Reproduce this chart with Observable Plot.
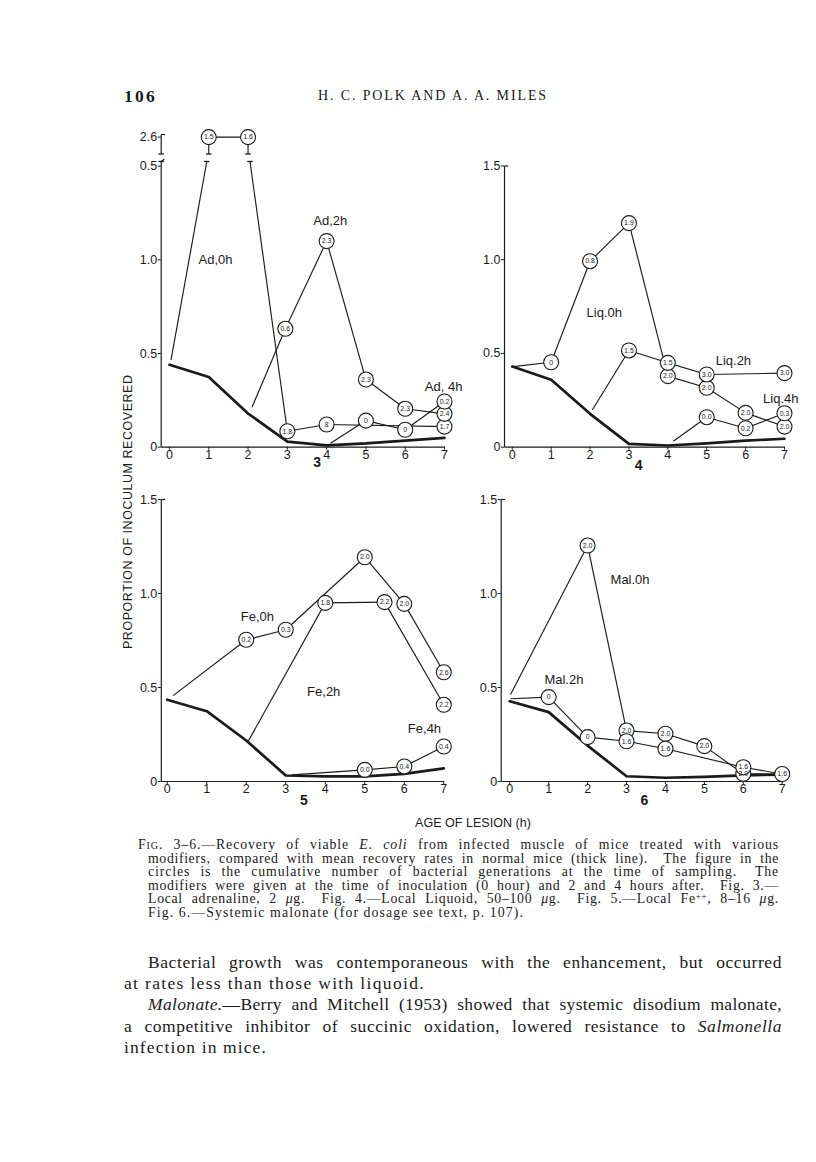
<!DOCTYPE html>
<html><head><meta charset="utf-8">
<script src="https://cdn.jsdelivr.net/npm/d3@7"></script>
<script src="https://cdn.jsdelivr.net/npm/@observablehq/plot@0.6"></script>
<style>
body{margin:0;background:#fff;}
#page{position:relative;width:816px;height:1162px;background:#fff;color:#1a1a1a;overflow:hidden;}
.ln{position:absolute;white-space:nowrap;}
.serif{font-family:"Liberation Serif","Times New Roman",serif;}
.sans{font-family:"Liberation Sans",Arial,sans-serif;}
sup{font-size:0.65em;line-height:0;vertical-align:0.45em;}
</style></head><body><div id="page"></div>
<script>
// ---------- data ----------
const hours = [0, 1, 2, 3, 4, 5, 6, 7];

// Fig. 3 — local adrenaline
const normal3 = [0.44, 0.375, 0.18, 0.03, 0.01, 0.02, 0.035, 0.05];
const ad0hX = [0.04, 1, 2, 3, 4, 7];
const ad0hY = [0.466, 2.6, 2.6, 0.085, 0.121, 0.11];
const ad0hG = [null, "1.5", "1.6", "1.8", "8", "1.7"];
const ad2hX = [2.1, 2.95, 4, 5, 6, 7];
const ad2hY = [0.213, 0.632, 1.10, 0.361, 0.205, 0.178];
const ad2hG = [null, "0.6", "2.3", "2.3", "2.3", "2.4"];
const ad4hX = [4.1, 5, 6, 7];
const ad4hY = [0.021, 0.142, 0.093, 0.244];
const ad4hG = [null, "0", "0", "0.2"];

// Fig. 4 — local Liquoid
const normal4 = [0.43, 0.36, 0.178, 0.018, 0.009, 0.02, 0.035, 0.045];
const liq0hX = [0.02, 1, 2, 3, 4, 5, 6, 7];
const liq0hY = [0.43, 0.453, 0.992, 1.195, 0.379, 0.317, 0.183, 0.11];
const liq0hG = [null, "0", "0.8", "1.9", "2.0", "2.0", "2.0", "2.0"];
const liq2hX = [2.06, 3, 4, 5, 7];
const liq2hY = [0.2, 0.516, 0.45, 0.388, 0.395];
const liq2hG = [null, "1.5", "1.5", "3.0", "3.0"];
const liq4hX = [4.14, 5, 6, 7];
const liq4hY = [0.032, 0.16, 0.101, 0.181];
const liq4hG = [null, "0.0", "0.2", "0.3"];

// Fig. 5 — local Fe++
const normal5 = [0.435, 0.374, 0.218, 0.032, 0.027, 0.027, 0.041, 0.07];
const fe0hX = [0.15, 2, 3, 5, 6, 7];
const fe0hY = [0.457, 0.754, 0.807, 1.193, 0.945, 0.581];
const fe0hG = [null, "0.2", "0.3", "2.0", "2.0", "2.6"];
const fe2hX = [2.05, 4, 5.5, 7];
const fe2hY = [0.214, 0.95, 0.954, 0.408];
const fe2hG = [null, "1.8", "2.2", "2.2"];
const fe4hX = [3.15, 5, 6, 7];
const fe4hY = [0.035, 0.062, 0.08, 0.186];
const fe4hG = [null, "0.0", "0.4", "0.4"];

// Fig. 6 — systemic malonate
const normal6 = [0.427, 0.369, 0.191, 0.028, 0.02, 0.025, 0.033, 0.036];
const mal0hX = [0.02, 2, 3, 4, 5, 6, 7];
const mal0hY = [0.463, 1.255, 0.271, 0.254, 0.188, 0.041, 0.04];
const mal0hG = [null, "2.0", "2.0", "2.0", "2.0", "2.0", null];
const mal2hX = [0.02, 1, 2, 3, 4, 6, 7];
const mal2hY = [0.44, 0.449, 0.236, 0.214, 0.174, 0.076, 0.04];
const mal2hG = [null, "0", "0", "1.6", "1.6", "1.6", "1.6"];

// tick labels
const yTicksStd = [0, 0.5, 1.0, 1.5];
const yLabelsStd = ["0", "0.5", "1.0", "1.5"];
const yTicksBrk = [0, 0.5, 1.0, 1.5, 1.655];
const yLabelsBrk = ["0", "0.5", "1.0", "0.5", "2.6"];

// ---------- drawing ----------
const page = document.getElementById("page");
const INK = "#1a1a1a";

function makePanel(cfg) {
  const cut = cfg.cut ?? Infinity;
  const pos = v => (v > cut ? cfg.breakPos : v);
  const segs = [], bars = [], pts = [];
  for (const [xs, ys, gs] of cfg.series) {
    const p = xs.map((x, i) => ({x, v: ys[i], g: gs[i]}));
    p.forEach((d, i) => {
      if (d.g != null) pts.push({x: d.x, y: pos(d.v), g: d.g});
      if (i === 0) return;
      const a = p[i - 1], b = d;
      const aHi = a.v > cut, bHi = b.v > cut;
      if (aHi === bHi) segs.push({x1: a.x, y1: pos(a.v), x2: b.x, y2: pos(b.v)});
      else {
        const hi = aHi ? a : b, lo = aHi ? b : a;
        const xa = hi.x + Math.sign(lo.x - hi.x) * cfg.brk.dx;
        segs.push({x1: lo.x, y1: lo.v, x2: xa, y2: cfg.brk.low});
        segs.push({x1: hi.x, y1: cfg.brk.high, x2: hi.x, y2: pos(hi.v)});
        bars.push({x: xa, y: cfg.brk.low}, {x: hi.x, y: cfg.brk.high});
      }
    });
  }
  // axis frame
  const axisSegs = [{x1: cfg.xMin, y1: 0, x2: 7, y2: 0}];
  if (cfg.brk) {
    axisSegs.push({x1: cfg.xMin, y1: 0, x2: cfg.xMin, y2: cfg.brk.low});
    axisSegs.push({x1: cfg.xMin, y1: cfg.brk.high, x2: cfg.xMin, y2: cfg.yTop});
    bars.push({x: cfg.xMin, y: cfg.brk.low}, {x: cfg.xMin, y: cfg.brk.high});
    axisSegs.push({x1: cfg.xMin, y1: cfg.brk.low, x2: cfg.xMin + 0.08, y2: cfg.brk.low + 0.012});
  } else {
    axisSegs.push({x1: cfg.xMin, y1: 0, x2: cfg.xMin, y2: cfg.yTop});
  }
  axisSegs.push({x1: cfg.xMin, y1: cfg.yTop, x2: cfg.xMin + 0.1, y2: cfg.yTop});
  const labMap = new Map(cfg.yTicks.map((t, i) => [t, cfg.yLabels[i]]));
  const normal = hours.map((h, i) => ({h, v: cfg.normal[i]}));

  const svg = Plot.plot({
    width: cfg.W, height: cfg.H,
    marginLeft: cfg.mL, marginRight: cfg.mR, marginTop: cfg.mT, marginBottom: cfg.mB,
    x: {domain: [cfg.xMin, 7], axis: null},
    y: {domain: [0, cfg.yTop], axis: null},
    style: {fontFamily: "'Liberation Sans', Arial, sans-serif", color: INK, background: "transparent", overflow: "visible", maxWidth: "none"},
    marks: [
      Plot.link(axisSegs, {x1: "x1", y1: "y1", x2: "x2", y2: "y2", stroke: INK, strokeWidth: 1.2}),
      Plot.axisX(hours, {tickSize: 3, tickPadding: 0, fontSize: 12.5, stroke: INK}),
      Plot.axisY(cfg.yTicks, {tickSize: 3, tickPadding: 1, fontSize: 12.5, tickFormat: d => labMap.get(d), stroke: INK}),
      Plot.link(segs, {x1: "x1", y1: "y1", x2: "x2", y2: "y2", stroke: INK, strokeWidth: 1.15}),
      Plot.link(bars, {x1: d => d.x - 0.07, x2: d => d.x + 0.07, y1: "y", y2: "y", stroke: INK, strokeWidth: 1.3}),
      Plot.line(normal, {x: "h", y: "v", stroke: INK, strokeWidth: 2.7, strokeLinejoin: "round"}),
      Plot.dot(pts, {x: "x", y: "y", r: 7.5, fill: "white", stroke: INK, strokeWidth: 1.1}),
      Plot.text(pts, {x: "x", y: "y", text: "g", fontSize: 7, fill: INK}),
      Plot.text(cfg.labels, {x: "x", y: "y", text: "t", textAnchor: "start", fontSize: 13, fill: INK}),
      Plot.text([cfg.num], {x: "x", y: "y", text: "t", fontSize: 14, fontWeight: "bold", fill: INK})
    ]
  });
  svg.style.position = "absolute";
  svg.style.left = cfg.left + "px";
  svg.style.top = cfg.top + "px";
  page.appendChild(svg);
}

makePanel({
  left: 110, top: 116, W: 350, H: 354, mL: 50.7, mR: 16, mT: 18, mB: 23.3,
  xMin: -0.21, yTop: 1.669, cut: 1.5, breakPos: 1.655,
  brk: {low: 1.525, high: 1.565, dx: 0.05},
  yTicks: yTicksBrk, yLabels: yLabelsBrk, normal: normal3,
  series: [[ad0hX, ad0hY, ad0hG], [ad2hX, ad2hY, ad2hG], [ad4hX, ad4hY, ad4hG]],
  labels: [{t: "Ad,0h", x: 0.74, y: 1.0}, {t: "Ad,2h", x: 3.66, y: 1.21}, {t: "Ad, 4h", x: 6.5, y: 0.32}],
  num: {t: "3", x: 3.76, y: -0.08}
});
makePanel({
  left: 460, top: 140, W: 340, H: 330, mL: 44, mR: 16, mT: 25.45, mB: 23.3,
  xMin: -0.2, yTop: 1.5,
  yTicks: yTicksStd, yLabels: yLabelsStd, normal: normal4,
  series: [[liq0hX, liq0hY, liq0hG], [liq2hX, liq2hY, liq2hG], [liq4hX, liq4hY, liq4hG]],
  labels: [{t: "Liq.0h", x: 1.91, y: 0.717}, {t: "Liq.2h", x: 5.23, y: 0.459}, {t: "Liq.4h", x: 6.45, y: 0.258}],
  num: {t: "4", x: 3.25, y: -0.098}
});
makePanel({
  left: 110, top: 480, W: 350, H: 330, mL: 50.8, mR: 16.7, mT: 19, mB: 29,
  xMin: -0.15, yTop: 1.5,
  yTicks: yTicksStd, yLabels: yLabelsStd, normal: normal5,
  series: [[fe0hX, fe0hY, fe0hG], [fe2hX, fe2hY, fe2hG], [fe4hX, fe4hY, fe4hG]],
  labels: [{t: "Fe,0h", x: 1.86, y: 0.878}, {t: "Fe,2h", x: 3.54, y: 0.475}, {t: "Fe,4h", x: 6.09, y: 0.278}],
  num: {t: "5", x: 3.46, y: -0.1}
});
makePanel({
  left: 460, top: 480, W: 340, H: 330, mL: 40.7, mR: 18.3, mT: 19, mB: 29,
  xMin: -0.22, yTop: 1.5,
  yTicks: yTicksStd, yLabels: yLabelsStd, normal: normal6,
  series: [[mal0hX, mal0hY, mal0hG], [mal2hX, mal2hY, mal2hG]],
  labels: [{t: "Mal.0h", x: 2.59, y: 1.073}, {t: "Mal.2h", x: 0.89, y: 0.541}],
  num: {t: "6", x: 3.46, y: -0.1}
});

// ---------- page text ----------
function addLine(html, cls, left, cy, size, lh, opts = {}) {
  const el = document.createElement("div");
  el.className = "ln " + cls;
  el.innerHTML = html;
  el.style.left = left + "px";
  el.style.fontSize = size + "px";
  el.style.lineHeight = lh + "px";
  el.style.top = (cy - lh / 2) + "px";
  if (opts.weight) el.style.fontWeight = opts.weight;
  page.appendChild(el);
  return el;
}
// justified line: spread part of the extra width over letters, rest over word gaps
function justify(el, width, share) {
  const txt = el.textContent;
  const w = el.getBoundingClientRect().width;
  const ns = (txt.match(/ /g) || []).length;
  el.style.letterSpacing = ((width - w) * share / txt.length) + "px";
  const w2 = el.getBoundingClientRect().width;
  if (ns) el.style.wordSpacing = ((width - w2) / ns) + "px";
}
function fitWidth(el, width) {
  const w = el.getBoundingClientRect().width;
  el.style.letterSpacing = ((width - w) / el.textContent.length) + "px";
}
function block(lines, cls, y0, dy, size, lh, right, share) {
  lines.forEach(([h, x, end], i) => {
    const el = addLine(h, cls, x, y0 + i * dy, size, lh);
    if (end === "J") justify(el, right - x, share);
    else fitWidth(el, end - x);
  });
}

// running head
const pg = addLine("106", "serif", 124, 96, 17.5, 20, {weight: "bold"});
fitWidth(pg, 33);
const rh = addLine("H. C. POLK AND A. A. MILES", "serif", 318, 96, 14, 18);
fitWidth(rh, 230);

// axis titles
const yl = document.createElementNS("http://www.w3.org/2000/svg", "svg");
yl.setAttribute("width", "30"); yl.setAttribute("height", "320");
yl.style.position = "absolute"; yl.style.left = "113px"; yl.style.top = "352px";
yl.innerHTML = '<text transform="translate(15,160) rotate(-90)" text-anchor="middle" dominant-baseline="central" textLength="274" lengthAdjust="spacing" font-family="Liberation Sans, Arial, sans-serif" font-size="12.5" fill="' + INK + '">PROPORTION OF INOCULUM RECOVERED</text>';
page.appendChild(yl);
const xl = addLine("AGE OF LESION (h)", "sans", 415, 823, 12.5, 16);
fitWidth(xl, 116);

// caption  ([html, left, "J" = justified | right end])
block([
  ['<span style="font-variant:small-caps">Fig.</span> 3–6.—Recovery of viable <i>E. coli</i> from infected muscle of mice treated with various', 138, "J"],
  ['modifiers, compared with mean recovery rates in normal mice (thick line).&ensp; The figure in the', 148, "J"],
  ['circles is the cumulative number of bacterial generations at the time of sampling.&ensp; The', 148, "J"],
  ['modifiers were given at the time of inoculation (0 hour) and 2 and 4 hours after.&ensp; Fig. 3.—', 148, "J"],
  ['Local adrenaline, 2 <i>μ</i>g.&ensp; Fig. 4.—Local Liquoid, 50–100 <i>μ</i>g.&ensp; Fig. 5.—Local Fe<sup>++</sup>, 8–16 <i>μ</i>g.', 148, "J"],
  ['Fig. 6.—Systemic malonate (for dosage see text, p. 107).', 148, 524]
], "serif", 845, 13.6, 13.8, 14, 779, 0.5);

// body text
block([
  ['Bacterial growth was contemporaneous with the enhancement, but occurred', 148, "J"],
  ['at rates less than those with liquoid.', 124, 425],
  ['<i>Malonate.</i>—Berry and Mitchell (1953) showed that systemic disodium malonate,', 148, "J"],
  ['a competitive inhibitor of succinic oxidation, lowered resistance to <i>Salmonella</i>', 124, "J"],
  ['infection in mice.', 124, 267]
], "serif", 962, 21.2, 17.5, 20, 782, 0.4);
</script></body></html>
